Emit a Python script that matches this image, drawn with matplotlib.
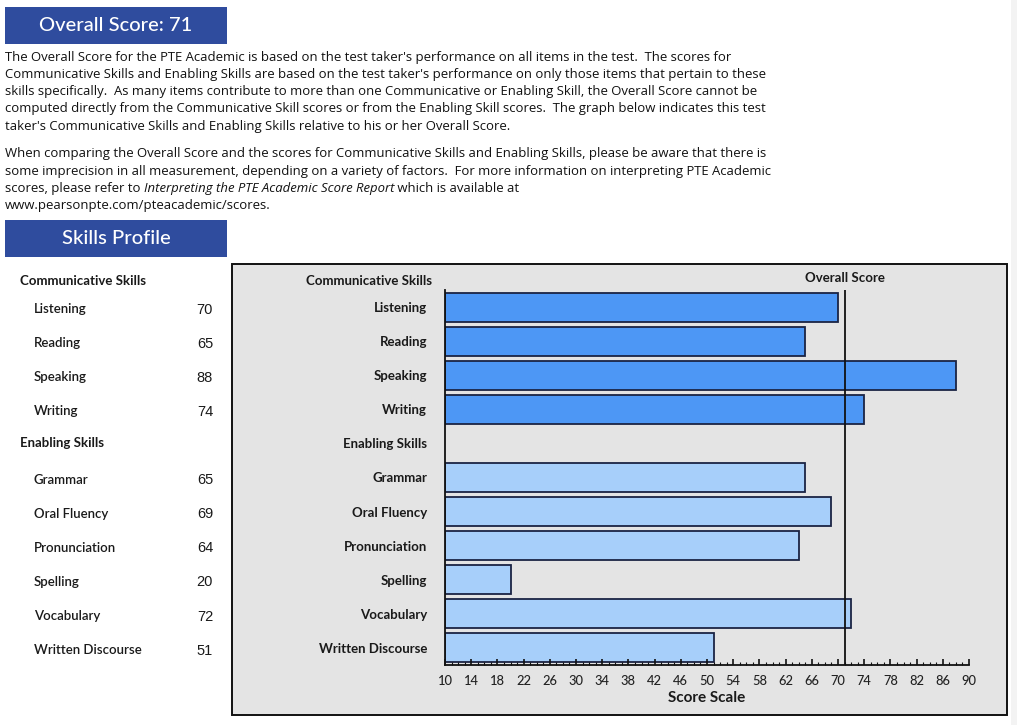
import numpy as np
import matplotlib
matplotlib.use("Agg")
import matplotlib.pyplot as plt
from matplotlib.patches import Rectangle
from matplotlib.ticker import MultipleLocator
import matplotlib.transforms as mtransforms

# ---------------- data ----------------
overall_score = 71
comm_skills = ["Listening", "Reading", "Speaking", "Writing"]
comm_scores = [70, 65, 88, 74]
enab_skills = ["Grammar", "Oral Fluency", "Pronunciation", "Spelling", "Vocabulary", "Written Discourse"]
enab_scores = [65, 69, 64, 20, 72, 51]
xticks = list(range(10, 91, 4))
x_range = (10, 90)

para1 = [
    "The Overall Score for the PTE Academic is based on the test taker's performance on all items in the test.  The scores for",
    "Communicative Skills and Enabling Skills are based on the test taker's performance on only those items that pertain to these",
    "skills specifically.  As many items contribute to more than one Communicative or Enabling Skill, the Overall Score cannot be",
    "computed directly from the Communicative Skill scores or from the Enabling Skill scores.  The graph below indicates this test",
    "taker's Communicative Skills and Enabling Skills relative to his or her Overall Score.",
]
para2 = [
    "When comparing the Overall Score and the scores for Communicative Skills and Enabling Skills, please be aware that there is",
    "some imprecision in all measurement, depending on a variety of factors.  For more information on interpreting PTE Academic",
]
para2_l3 = ["scores, please refer to ", "Interpreting the PTE Academic Score Report", " which is available at"]
para2_l4 = "www.pearsonpte.com/pteacademic/scores."

# ---------------- figure ----------------
W, H = 1017, 725
fig = plt.figure(figsize=(W / 100, H / 100), dpi=100)
fig.patch.set_facecolor("white")

def fx(px):
    return px / W

def fy(py):
    return 1 - py / H

NAVY = "#2f4c9e"
BODY = "Open Sans"
LBL = "Lato"
TXT = "#111111"

# chart frame
fig.add_artist(Rectangle((fx(232), fy(715)), fx(1007) - fx(232), (715 - 264) / H,
                         transform=fig.transFigure, facecolor="#e4e4e4", edgecolor="#111111",
                         lw=1.4, zorder=0))

# chart axes
ax = fig.add_axes([fx(445), fy(665), (969 - 445) / W, (665 - 290) / H])
ax.set_facecolor("none")
ax.set_axisbelow(False)
ax.set_xlim(*x_range)

# right edge light strip
fig.add_artist(Rectangle((fx(1011), 0), fx(W) - fx(1011), 1, transform=fig.transFigure,
                         facecolor="#f3f3f3", edgecolor="none", zorder=0))

# header boxes
def header_box(y0, y1, text):
    fig.add_artist(Rectangle((fx(5), fy(y1)), fx(227) - fx(5), (y1 - y0) / H,
                             transform=fig.transFigure, facecolor=NAVY, edgecolor="none", zorder=1))
    fig.text(fx(116), fy((y0 + y1) / 2), text, color="white", fontsize=14.5, fontweight="medium",
             family=LBL, ha="center", va="center", zorder=2)

header_box(7, 44, f"Overall Score: {overall_score}")
header_box(220, 257, "Skills Profile")

# paragraph text
PFS = 9.42
LH = 17.3
y = 57
for line in para1:
    fig.text(fx(5), fy(y), line, fontsize=PFS, family=BODY, color=TXT, va="center", ha="left")
    y += LH
y = 154
for line in para2:
    fig.text(fx(5), fy(y), line, fontsize=PFS, family=BODY, color=TXT, va="center", ha="left")
    y += LH
t1 = fig.text(fx(5), fy(y), para2_l3[0], fontsize=PFS, family=BODY, color=TXT, va="center", ha="left")
a2 = ax.annotate(para2_l3[1], xy=(1, 0), xycoords=t1, fontsize=PFS, family=BODY, style="italic",
                 color=TXT, va="bottom", ha="left", annotation_clip=False)
a3 = ax.annotate(para2_l3[2], xy=(1, 0), xycoords=a2, fontsize=PFS, family=BODY,
                 color=TXT, va="bottom", ha="left", annotation_clip=False)
y += LH
fig.text(fx(5), fy(y), para2_l4, fontsize=PFS, family=BODY, color=TXT, va="center", ha="left")

n_comm = len(comm_skills)
comm_pos = np.arange(n_comm)
enab_header_pos = n_comm
enab_pos = np.arange(len(enab_skills)) + n_comm + 1
ax.set_ylim(enab_pos[-1] + 0.5, -0.5)

BAR_H = 0.85
EDGE = "#1b2444"
ax.barh(comm_pos, np.array(comm_scores) - x_range[0], left=x_range[0], height=BAR_H,
        color="#4d97f5", edgecolor=EDGE, lw=1.3, zorder=2)
ax.barh(enab_pos, np.array(enab_scores) - x_range[0], left=x_range[0], height=BAR_H,
        color="#a7cffa", edgecolor=EDGE, lw=1.3, zorder=2)
ax.axvline(overall_score, color="#111111", lw=1.3, zorder=3)

for s in ["top", "right"]:
    ax.spines[s].set_visible(False)
for s in ["left", "bottom"]:
    ax.spines[s].set_linewidth(1.3)
    ax.spines[s].set_color("#111111")

ax.set_xticks(xticks)
ax.set_xticklabels([str(v) for v in xticks], family=LBL, fontsize=9.3, fontweight="medium", color="#222222")
ax.xaxis.set_minor_locator(MultipleLocator(1))
ax.tick_params(axis="x", which="major", direction="in", length=4.5, width=1.2, pad=7, color="#111111")
ax.tick_params(axis="x", which="minor", direction="in", length=2, width=0.8, color="#111111")

ypos = list(comm_pos) + [enab_header_pos] + list(enab_pos)
ylabels = comm_skills + ["Enabling Skills"] + enab_skills
ax.set_yticks(ypos)
ax.set_yticklabels(ylabels, family=LBL, fontsize=9.5, fontweight="bold", color="#1a1a1a")
ax.tick_params(axis="y", length=0, pad=13)

ax.set_xlabel("Score Scale", family=LBL, fontsize=11, fontweight="bold", labelpad=3, color="#1a1a1a")

head_y = -0.5 - (290 - 281) / ((665 - 290) / (enab_pos[-1] + 1))
ax.text(-0.0245, head_y, "Communicative Skills",
        transform=mtransforms.blended_transform_factory(ax.transAxes, ax.transData),
        family=LBL, fontsize=9.5, fontweight="bold", ha="right", va="center", color="#1a1a1a", clip_on=False)
ax.text(overall_score, head_y - 0.1, "Overall Score", family=LBL, fontsize=9.5, fontweight="bold",
        ha="center", va="center", color="#1a1a1a", clip_on=False)

# left table, aligned with chart rows
tr = mtransforms.blended_transform_factory(fig.transFigure, ax.transData)
fig.text(fx(20), head_y, "Communicative Skills", transform=tr, family=LBL, fontsize=9.5,
         fontweight="bold", ha="left", va="center", color="#1a1a1a")
fig.text(fx(20), enab_header_pos, "Enabling Skills", transform=tr, family=LBL, fontsize=9.5,
         fontweight="bold", ha="left", va="center", color="#1a1a1a")
for names, scores, pos in [(comm_skills, comm_scores, comm_pos), (enab_skills, enab_scores, enab_pos)]:
    for name, sc, p in zip(names, scores, pos):
        fig.text(fx(34), p + 0.06, name, transform=tr, family=LBL, fontsize=9.5, fontweight="semibold",
                 ha="left", va="center", color="#1a1a1a")
        fig.text(fx(213), p + 0.08, str(sc), transform=tr, family="Liberation Sans", fontsize=10.5,
                 ha="right", va="center", color="#1a1a1a")

fig.savefig("out.png", dpi=100)
